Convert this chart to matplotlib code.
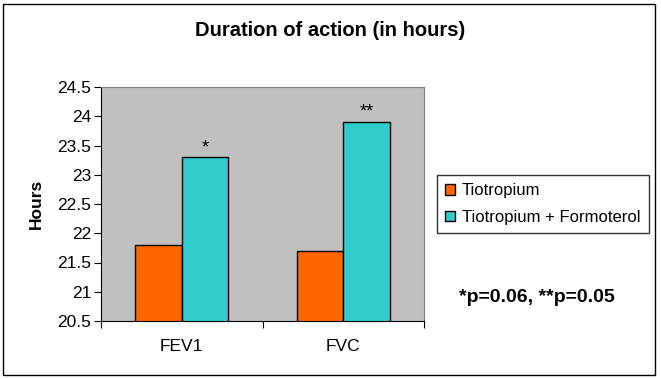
import numpy as np
import matplotlib.pyplot as plt
from matplotlib.patches import Rectangle

plt.rcParams['font.family'] = ['Liberation Sans', 'DejaVu Sans']

categories = ["FEV1", "FVC"]
tiotropium = [21.8, 21.7]
tio_formoterol = [23.3, 23.9]
stars = ["*", "**"]
yticks = [20.5, 21, 21.5, 22, 22.5, 23, 23.5, 24, 24.5]

W, H = 661, 379
fig = plt.figure(figsize=(W / 100, H / 100), dpi=100)
ax = fig.add_axes([101 / W, 1 - 321 / H, (424 - 101) / W, (321 - 87) / H])
ax.set_facecolor("#C0C0C0")

x = np.arange(len(categories))
bw = 0.288
b1 = ax.bar(x - bw / 2, tiotropium, bw, color="#FF6600",
            edgecolor="black", linewidth=1, label="Tiotropium")
b2 = ax.bar(x + bw / 2, tio_formoterol, bw, color="#33CCCC",
            edgecolor="black", linewidth=1, label="Tiotropium + Formoterol")
for xi, v, s in zip(x, tio_formoterol, stars):
    ax.text(xi + bw / 2, v + 0.02, s, ha="center", va="bottom", fontsize=13)

ax.set_ylim(20.5, 24.5)
ax.set_xlim(-0.5, 1.5)
ax.set_yticks(yticks)
ax.set_yticklabels([f"{t:g}" for t in yticks], fontsize=12.5)
ax.set_xticks([-0.5, 0.5, 1.5])
ax.set_xticklabels([])
ax.set_xticks(x, minor=True)
ax.set_xticklabels(categories, minor=True, fontsize=12.5)
ax.tick_params(axis="x", which="minor", length=0, pad=13)
ax.tick_params(axis="x", which="major", length=5, direction="out")
ax.tick_params(axis="y", length=5, direction="out", pad=2)
for side in ["top", "right"]:
    ax.spines[side].set_color("#808080")
for side in ["left", "bottom"]:
    ax.spines[side].set_color("black")
ax.set_ylabel("Hours", fontsize=12.5, fontweight="bold", labelpad=10)

fig.text(330 / W, 1 - 30 / H, "Duration of action (in hours)", ha="center",
         va="center", fontsize=14.5, fontweight="bold")

leg = fig.legend(handles=[b1, b2], loc="upper left",
                 bbox_to_anchor=(437 / W, 1 - 175 / H), fontsize=12,
                 frameon=True, fancybox=False, edgecolor="black",
                 handlelength=0.6, handleheight=0.6, handletextpad=0.4,
                 borderpad=0.5, labelspacing=0.7, borderaxespad=0)
leg.get_frame().set_linewidth(1)

fig.text(537 / W, 1 - 298 / H, "*p=0.06, **p=0.05", ha="center", va="center",
         fontsize=14, fontweight="bold")

fig.patches.append(Rectangle((3 / W, 4 / H), 652 / W, 371 / H,
                             transform=fig.transFigure, fill=False,
                             edgecolor="black", linewidth=1))

fig.savefig("out.png", dpi=100)
